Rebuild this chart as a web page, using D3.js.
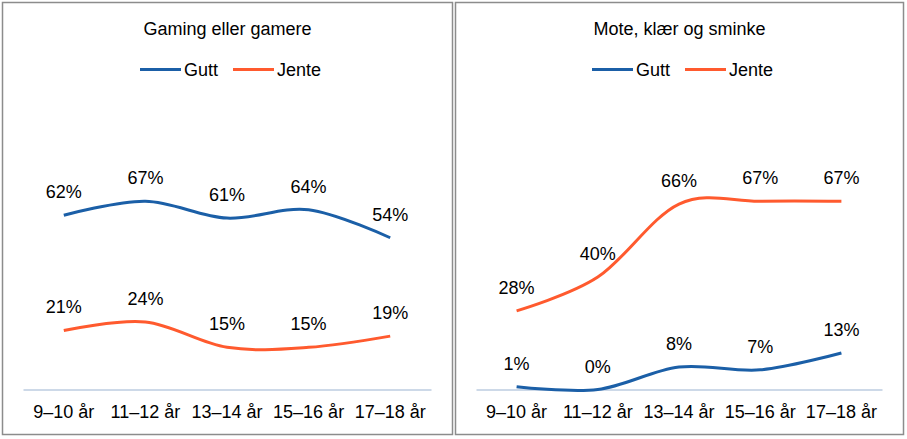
<!DOCTYPE html>
<html>
<head>
<meta charset="utf-8">
<script src="https://cdn.jsdelivr.net/npm/d3@7"></script>
<style>
  html, body { margin: 0; padding: 0; background: #fff; }
  svg { display: block; }
  text { font-family: "Liberation Sans", Arial, sans-serif; fill: #000; }
</style>
</head>
<body>
<svg id="chart" width="907" height="439"></svg>
<script>
// ---- Data ----
const categories = ["9–10 år", "11–12 år", "13–14 år", "15–16 år", "17–18 år"];
const seriesNames = ["Gutt", "Jente"];
const seriesColors = ["#1b5fa7", "#ff5a2e"];

const gamingTitle = "Gaming eller gamere";
const gamingGutt = [62, 67, 61, 64, 54];
const gamingJente = [21, 24, 15, 15, 19];

const moteTitle = "Mote, klær og sminke";
const moteGutt = [1, 0, 8, 7, 13];
const moteJente = [28, 40, 66, 67, 67];

const panels = [
  { title: gamingTitle, series: [gamingGutt, gamingJente], x0: 2.5, x1: 452.5 },
  { title: moteTitle, series: [moteGutt, moteJente], x0: 455.5, x1: 903.5 }
];

const svg = d3.select("#chart");
const panelTop = 2.5, panelBottom = 434.5;
const FONT = 18;

panels.forEach(p => {
  const g = svg.append("g");
  // border
  g.append("rect")
    .attr("x", p.x0).attr("y", panelTop)
    .attr("width", p.x1 - p.x0).attr("height", panelBottom - panelTop)
    .attr("fill", "#fff").attr("stroke", "#8c8c8c").attr("stroke-width", 1.5);

  const cx = (p.x0 + p.x1) / 2;
  const plotL = p.x0 + 20.5, plotR = p.x1 - 21.5;

  const x = d3.scaleBand().domain(categories).range([plotL, plotR]).padding(0);
  const y = d3.scaleLinear().domain([0, 100]).range([389.5, 108.5]);

  // title
  g.append("text").attr("x", cx).attr("y", 35)
    .attr("text-anchor", "middle").attr("font-size", FONT).text(p.title);

  // legend
  const legItems = [
    { name: seriesNames[0], color: seriesColors[0], lx: cx - 87.5 },
    { name: seriesNames[1], color: seriesColors[1], lx: cx + 5.5 }
  ];
  legItems.forEach(it => {
    g.append("line").attr("x1", it.lx).attr("x2", it.lx + 41)
      .attr("y1", 69.5).attr("y2", 69.5)
      .attr("stroke", it.color).attr("stroke-width", 3);
    g.append("text").attr("x", it.lx + 44).attr("y", 75.5)
      .attr("font-size", FONT).text(it.name);
  });

  // axis line
  const axis = d3.axisBottom(x).tickSize(0).tickPadding(0);
  const ax = g.append("g").attr("transform", `translate(0,${y(0)})`).call(axis);
  ax.select(".domain").attr("stroke", "#bccde0").attr("stroke-width", 1.5);
  ax.selectAll(".tick text")
    .attr("font-size", FONT)
    .attr("font-family", "Liberation Sans, Arial, sans-serif")
    .attr("fill", "#000")
    .attr("dy", null)
    .attr("y", 28.5);

  // lines
  const line = d3.line()
    .x((d, i) => x(categories[i]) + x.bandwidth() / 2)
    .y(d => y(d))
    .curve(d3.curveCardinal.tension(0));

  p.series.forEach((s, si) => {
    g.append("path").datum(s)
      .attr("d", line)
      .attr("fill", "none")
      .attr("stroke", seriesColors[si])
      .attr("stroke-width", 3)
      .attr("stroke-linecap", "butt");
  });

  // data labels
  p.series.forEach((s, si) => {
    g.selectAll(null).data(s).enter().append("text")
      .attr("x", (d, i) => x(categories[i]) + x.bandwidth() / 2)
      .attr("y", d => y(d) - 17)
      .attr("text-anchor", "middle")
      .attr("font-size", FONT)
      .text(d => d + "%");
  });
});
</script>
</body>
</html>
